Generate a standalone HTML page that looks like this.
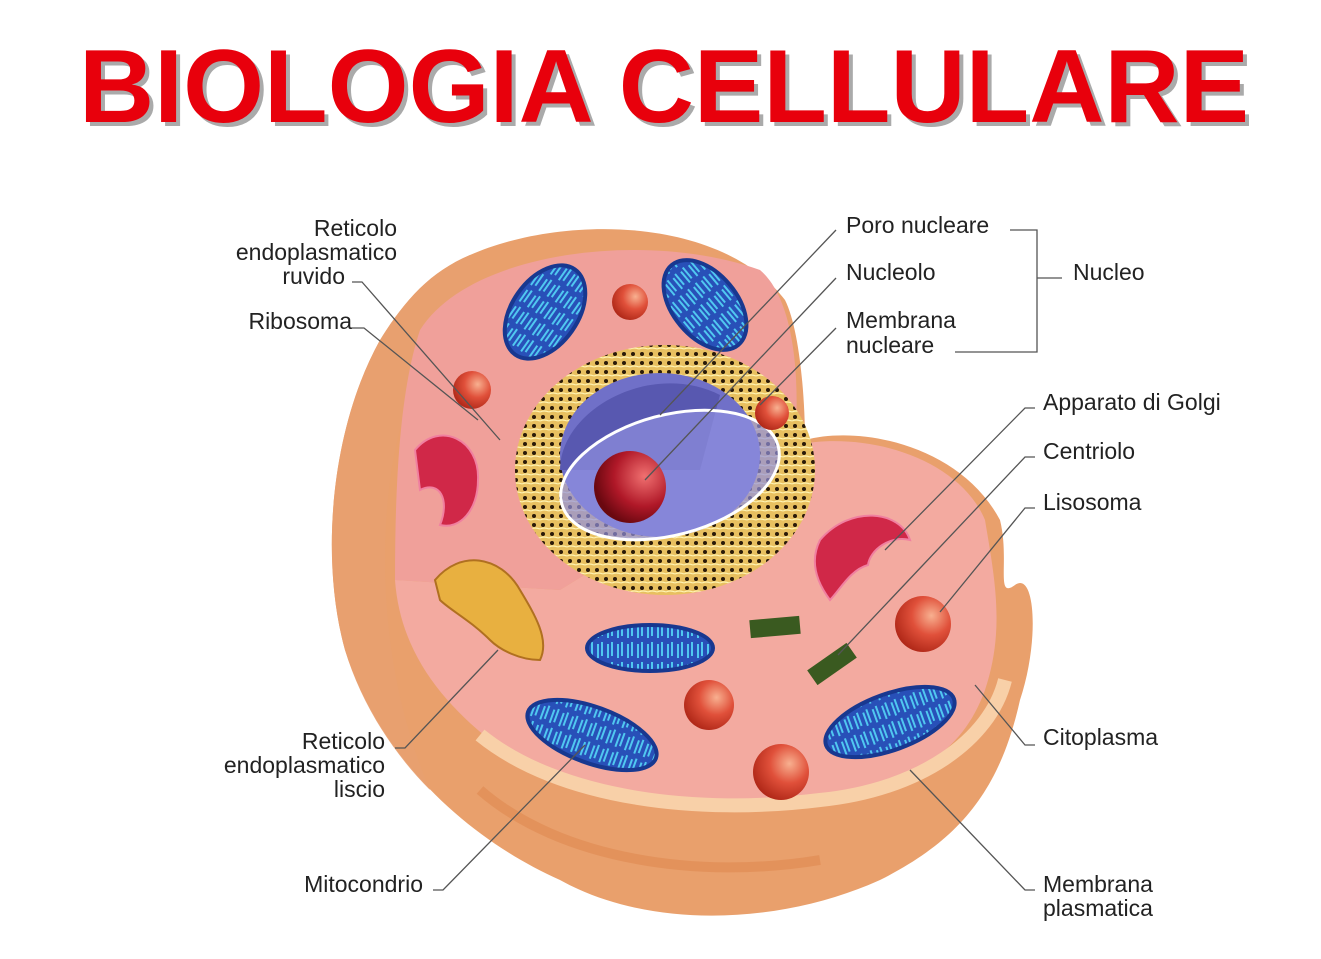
<!DOCTYPE html>
<html><head><meta charset="utf-8"><style>
html,body{margin:0;padding:0;background:#fff;}
svg{display:block}
text{font-family:"Liberation Sans",sans-serif}
.l{font-size:23px;fill:#222}
.ln{stroke:#555;stroke-width:1.3;fill:none}
</style></head><body>
<svg width="1321" height="959" viewBox="0 0 1321 959" xmlns="http://www.w3.org/2000/svg">
<defs>
<radialGradient id="rb" cx="0.65" cy="0.35" r="0.7"><stop offset="0" stop-color="#f8b090"/><stop offset="0.5" stop-color="#e0503a"/><stop offset="1" stop-color="#b02818"/></radialGradient>
<radialGradient id="nu" cx="0.7" cy="0.35" r="0.7"><stop offset="0" stop-color="#f07070"/><stop offset="0.6" stop-color="#b01828"/><stop offset="1" stop-color="#6a0810"/></radialGradient>
<pattern id="dots" width="9" height="9" patternUnits="userSpaceOnUse"><rect width="9" height="9" fill="#e8c060"/><circle cx="3" cy="3" r="2" fill="#2a1a08"/><path d="M0 7 Q4 5 9 7" stroke="#fff3b0" stroke-width="1.2" fill="none"/></pattern>
<pattern id="mito" width="10" height="20" patternUnits="userSpaceOnUse"><rect width="10" height="20" fill="#2850b8"/><path d="M2 2 V16 M8 4 V18" stroke="#50c8f0" stroke-width="2"/></pattern>
</defs>
<text x="664" y="122" text-anchor="middle" font-size="104" font-weight="bold" fill="#aaa" textLength="1170" lengthAdjust="spacingAndGlyphs" transform="translate(4,4)">BIOLOGIA CELLULARE</text>
<text x="664" y="122" text-anchor="middle" font-size="104" font-weight="bold" fill="#e8000c" textLength="1170" lengthAdjust="spacingAndGlyphs">BIOLOGIA CELLULARE</text>

<!-- outer body -->
<path d="M470,255 C560,215 720,215 785,300 C800,330 805,400 805,440 C860,425 960,445 1000,520 C1010,560 995,600 1015,585 C1035,570 1040,640 1020,700 C1000,790 960,840 880,880 C780,925 650,930 560,880 C470,840 380,760 345,650 C320,560 330,430 380,340 C405,300 430,272 470,255 Z" fill="#e9a06c"/>
<!-- darker outer left shell -->
<path d="M470,255 C430,272 405,300 380,340 C330,430 320,560 345,650 C360,700 390,750 430,790 C400,720 385,640 385,560 C385,450 410,360 470,300 Z" fill="#e8a070" opacity="0.9"/>
<!-- inner pink dome face -->
<path d="M420,330 C470,250 650,230 760,270 C795,300 800,380 795,445 L560,590 L395,580 C395,480 400,390 420,330 Z" fill="#f0a09a"/>
<!-- lower tray -->
<path d="M395,580 L560,590 L795,445 C870,430 960,460 985,520 C995,580 1005,630 985,690 C960,760 900,790 800,800 C680,810 560,790 490,740 C440,700 400,650 395,580 Z" fill="#f3aaa0"/>
<path d="M480,735 C560,800 700,815 820,800 C920,790 990,740 1005,680" stroke="#f8d0a8" stroke-width="14" fill="none"/>
<path d="M480,790 C560,860 700,880 820,860" stroke="#e08850" stroke-width="10" fill="none" opacity="0.6"/>

<!-- ER ring -->
<ellipse cx="665" cy="470" rx="150" ry="125" fill="url(#dots)"/>
<!-- nucleus -->
<ellipse cx="660" cy="455" rx="100" ry="82" fill="#7070c8"/>
<path d="M560,470 C560,410 650,360 720,395 L700,470 Z" fill="#5858b0"/>
<ellipse cx="670" cy="475" rx="112" ry="60" fill="#9090e0" opacity="0.7" transform="rotate(-15 670 475)"/>
<ellipse cx="670" cy="475" rx="112" ry="60" fill="none" stroke="#fff" stroke-width="3" transform="rotate(-15 670 475)"/>
<circle cx="630" cy="487" r="36" fill="url(#nu)"/>

<!-- mitochondria -->
<ellipse cx="545" cy="312" rx="33" ry="52" fill="url(#mito)" stroke="#183890" stroke-width="4" transform="rotate(35 545 312)"/>
<ellipse cx="705" cy="305" rx="32" ry="52" fill="url(#mito)" stroke="#183890" stroke-width="4" transform="rotate(-40 705 305)"/>
<ellipse cx="650" cy="648" rx="63" ry="23" fill="url(#mito)" stroke="#183890" stroke-width="4"/>
<ellipse cx="592" cy="735" rx="68" ry="28" fill="url(#mito)" stroke="#183890" stroke-width="4" transform="rotate(20 592 735)"/>
<ellipse cx="890" cy="722" rx="68" ry="28" fill="url(#mito)" stroke="#183890" stroke-width="4" transform="rotate(-20 890 722)"/>

<!-- golgi -->
<path d="M415,450 C440,420 480,440 478,480 C478,510 460,530 440,525 C450,500 440,480 420,490 Z" fill="#d02848" stroke="#f080a0" stroke-width="2"/>
<path d="M820,540 C850,505 900,510 910,540 C890,535 870,550 868,565 C850,570 840,590 830,600 C815,580 810,560 820,540 Z" fill="#d02848" stroke="#f080a0" stroke-width="2"/>
<!-- smooth ER -->
<path d="M435,580 C460,550 500,555 520,590 C535,615 550,640 540,660 C520,660 500,650 490,640 C470,620 450,610 440,600 Z" fill="#e8b040" stroke="#b07020" stroke-width="2"/>
<!-- centrioles -->
<rect x="750" y="618" width="50" height="18" fill="#3a5a20" transform="rotate(-5 775 627)"/>
<rect x="808" y="655" width="48" height="18" fill="#3a5a20" transform="rotate(-35 832 664)"/>

<!-- ribosomes / lysosomes -->
<circle cx="630" cy="302" r="18" fill="url(#rb)"/>
<circle cx="472" cy="390" r="19" fill="url(#rb)"/>
<circle cx="772" cy="413" r="17" fill="url(#rb)"/>
<circle cx="923" cy="624" r="28" fill="url(#rb)"/>
<circle cx="709" cy="705" r="25" fill="url(#rb)"/>
<circle cx="781" cy="772" r="28" fill="url(#rb)"/>

<!-- leader lines -->
<path class="ln" d="M352,282 L362,282 L500,440"/>
<path class="ln" d="M352,328 L364,328 L478,420"/>
<path class="ln" d="M836,230 L660,415"/>
<path class="ln" d="M836,278 L645,480"/>
<path class="ln" d="M836,328 L760,405"/>
<path class="ln" d="M1010,230 L1037,230 L1037,352 L955,352"/>
<path class="ln" d="M1037,278 L1062,278"/>
<path class="ln" d="M1035,408 L1025,408 L885,550"/>
<path class="ln" d="M1035,457 L1025,457 L838,655"/>
<path class="ln" d="M1035,508 L1025,508 L940,612"/>
<path class="ln" d="M1035,745 L1025,745 L975,685"/>
<path class="ln" d="M1035,890 L1025,890 L910,770"/>
<path class="ln" d="M395,748 L405,748 L498,650"/>
<path class="ln" d="M433,890 L443,890 L585,745"/>

<!-- labels -->
<g class="l">
<text x="397" y="236" text-anchor="end">Reticolo</text>
<text x="397" y="260" text-anchor="end">endoplasmatico</text>
<text x="345" y="284" text-anchor="end">ruvido</text>
<text x="352" y="329" text-anchor="end">Ribosoma</text>
<text x="846" y="233">Poro nucleare</text>
<text x="846" y="280">Nucleolo</text>
<text x="846" y="328">Membrana</text>
<text x="846" y="353">nucleare</text>
<text x="1073" y="280">Nucleo</text>
<text x="1043" y="410">Apparato di Golgi</text>
<text x="1043" y="459">Centriolo</text>
<text x="1043" y="510">Lisosoma</text>
<text x="1043" y="745">Citoplasma</text>
<text x="1043" y="892">Membrana</text>
<text x="1043" y="916">plasmatica</text>
<text x="385" y="749" text-anchor="end">Reticolo</text>
<text x="385" y="773" text-anchor="end">endoplasmatico</text>
<text x="385" y="797" text-anchor="end">liscio</text>
<text x="423" y="892" text-anchor="end">Mitocondrio</text>
</g>
</svg>
</body></html>
